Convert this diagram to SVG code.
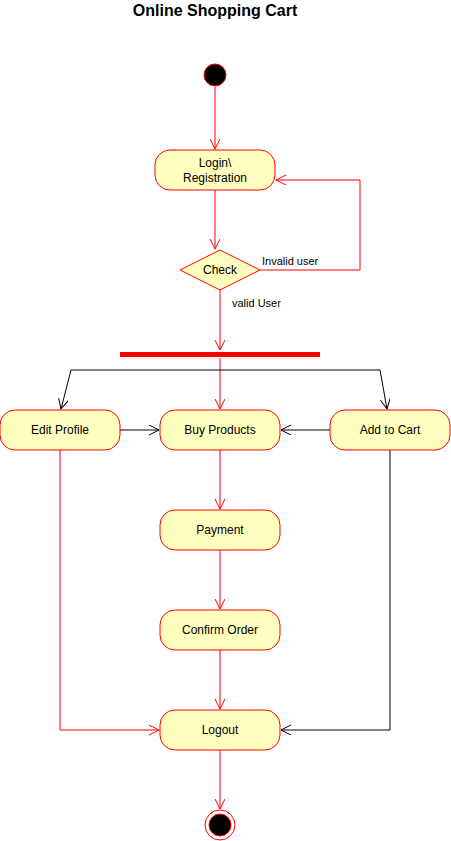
<svg xmlns="http://www.w3.org/2000/svg" width="451" height="841" viewBox="0 0 451 841">
<style>
.n{fill:#ffffc0;stroke:#ff0000;stroke-width:1}
.t{font-family:"Liberation Sans",Arial,sans-serif;font-size:12px;fill:#000;text-anchor:middle}
.l{font-family:"Liberation Sans",Arial,sans-serif;font-size:11px;fill:#000}
.r{fill:none;stroke:#ff0000;stroke-width:1}
.k{fill:none;stroke:#000;stroke-width:1}
</style>
<defs>
<marker id="ar" markerWidth="12" markerHeight="12" refX="10" refY="5" orient="auto" markerUnits="userSpaceOnUse"><path d="M0,0 L10,5 L0,10" fill="none" stroke="#ff0000"/></marker>
<marker id="ak" markerWidth="12" markerHeight="12" refX="10" refY="5" orient="auto" markerUnits="userSpaceOnUse"><path d="M0,0 L10,5 L0,10" fill="none" stroke="#000"/></marker>
</defs>
<text x="215" y="16" font-family="'Liberation Sans',Arial,sans-serif" font-size="16" font-weight="bold" text-anchor="middle">Online Shopping Cart</text>
<g id="edges">
<path class="r" d="M215,87 L215,149" marker-end="url(#ar)"/>
<path class="r" d="M215,190 L215,249" marker-end="url(#ar)"/>
<path class="r" d="M260,270 L360,270 L360,180 L276,180" marker-end="url(#ar)"/>
<path class="r" d="M220,290 L220,350" marker-end="url(#ar)"/>
<path class="r" d="M220,358 L220,409" marker-end="url(#ar)"/>
<path class="k" d="M71,370 L380,370"/>
<path class="k" d="M71,370 L61,409" marker-end="url(#ak)"/>
<path class="k" d="M380,370 L387,409" marker-end="url(#ak)"/>
<path class="k" d="M120,430 L159,430" marker-end="url(#ak)"/>
<path class="k" d="M330,430 L281,430" marker-end="url(#ak)"/>
<path class="r" d="M220,450 L220,509" marker-end="url(#ar)"/>
<path class="r" d="M220,550 L220,609" marker-end="url(#ar)"/>
<path class="r" d="M220,650 L220,709" marker-end="url(#ar)"/>
<path class="r" d="M60,450 L60,730 L159,730" marker-end="url(#ar)"/>
<path class="k" d="M390,450 L390,730 L281,730" marker-end="url(#ak)"/>
<path class="r" d="M220,750 L220,809" marker-end="url(#ar)"/>
<text class="l" x="262" y="265">Invalid user</text>
<text class="l" x="232" y="307">valid User</text>
</g>
<g id="start"><circle cx="215" cy="75" r="11" fill="#000" stroke="#ff0000"/></g>
<g id="login"><rect class="n" x="155" y="150" width="120" height="40" rx="15"/><text class="t" x="215" y="167">Login\</text><text class="t" x="215" y="182">Registration</text></g>
<g id="check"><path class="n" d="M220,250 L260,270 L220,290 L180,270 Z"/><text class="t" x="220" y="274">Check</text></g>
<g id="fork"><rect x="120" y="352" width="200" height="5" fill="#ff0000"/></g>
<g id="edit"><rect class="n" x="0" y="410" width="120" height="40" rx="15"/><text class="t" x="60" y="434">Edit Profile</text></g>
<g id="buy"><rect class="n" x="160" y="410" width="120" height="40" rx="15"/><text class="t" x="220" y="434">Buy Products</text></g>
<g id="cart"><rect class="n" x="330" y="410" width="120" height="40" rx="15"/><text class="t" x="390" y="434">Add to Cart</text></g>
<g id="payment"><rect class="n" x="160" y="510" width="120" height="40" rx="15"/><text class="t" x="220" y="534">Payment</text></g>
<g id="confirm"><rect class="n" x="160" y="610" width="120" height="40" rx="15"/><text class="t" x="220" y="634">Confirm Order</text></g>
<g id="logout"><rect class="n" x="160" y="710" width="120" height="40" rx="15"/><text class="t" x="220" y="734">Logout</text></g>
<g id="end"><circle cx="220" cy="825" r="15" fill="#fff" stroke="#ff0000"/><circle cx="220" cy="825" r="11" fill="#000" stroke="#ff0000"/></g>
</svg>
